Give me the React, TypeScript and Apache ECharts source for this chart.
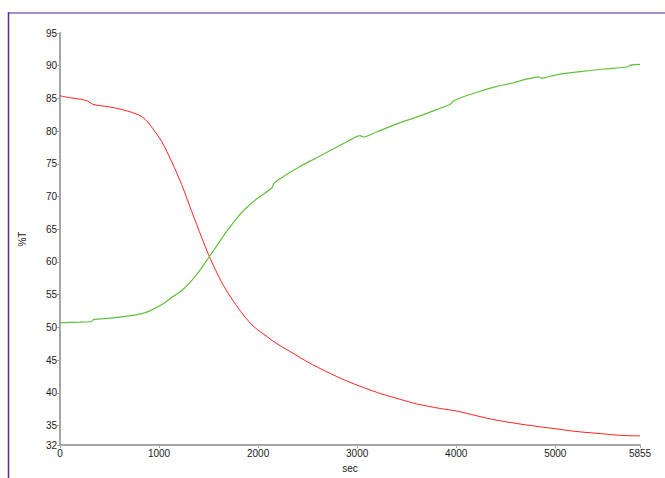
import React, { useEffect, useRef } from "react";
import * as echarts from "echarts";

const redSec = [0, 100, 200, 280, 330, 400, 500, 650, 790, 860, 926, 1027, 1128, 1229, 1330, 1431, 1500, 1566, 1650, 1750, 1852, 1950, 2088, 2200, 2357, 2500, 2694, 2880, 3064, 3250, 3434, 3600, 3838, 4007, 4200, 4411, 4700, 5000, 5200, 5421, 5650, 5855];
const redVal = [85.4, 85.1, 84.9, 84.6, 84.1, 83.9, 83.7, 83.2, 82.5, 81.8, 80.6, 78.4, 75.3, 71.8, 67.7, 63.7, 61.1, 58.9, 56.4, 54.0, 51.9, 50.2, 48.6, 47.4, 46.0, 44.7, 43.2, 41.9, 40.8, 39.8, 39.0, 38.3, 37.6, 37.2, 36.5, 35.8, 35.1, 34.5, 34.1, 33.8, 33.5, 33.4];

const greenSec = [0, 200, 320, 340, 500, 623, 825, 920, 993, 1060, 1128, 1200, 1263, 1320, 1364, 1430, 1498, 1570, 1633, 1684, 1780, 1869, 2000, 2138, 2160, 2200, 2300, 2424, 2600, 2761, 2900, 3030, 3064, 3200, 3434, 3650, 3838, 3940, 3973, 4100, 4242, 4400, 4579, 4700, 4831, 4860, 4899, 5050, 5252, 5500, 5724, 5760, 5855];
const greenVal = [50.7, 50.8, 50.9, 51.2, 51.4, 51.6, 52.1, 52.6, 53.2, 53.8, 54.6, 55.3, 56.1, 57.0, 57.8, 59.1, 60.6, 62.2, 63.6, 64.7, 66.6, 68.1, 69.8, 71.3, 72.0, 72.5, 73.5, 74.6, 76.0, 77.3, 78.4, 79.3, 79.1, 79.9, 81.3, 82.4, 83.5, 84.1, 84.6, 85.4, 86.1, 86.8, 87.4, 87.9, 88.3, 88.1, 88.2, 88.7, 89.1, 89.5, 89.8, 90.1, 90.2];

const xTicks = [0, 1000, 2000, 3000, 4000, 5000, 5855];
const yTicks = [32, 35, 40, 45, 50, 55, 60, 65, 70, 75, 80, 85, 90, 95];

const xName = "sec";
const yName = "%T";

export default function App() {
  const ref = useRef<HTMLDivElement>(null);
  useEffect(() => {
    if (!ref.current) return;
    const chart = echarts.init(ref.current, undefined, { renderer: "svg" });
    const font = "Arial, 'Liberation Sans', sans-serif";
    const axisLine = { show: true, lineStyle: { color: "#a6a6a6", width: 2 } };
    const axisTick = { show: true, length: 3, lineStyle: { color: "#a6a6a6", width: 1 } };
    const plain = (v: number) => String(v);
    chart.setOption({
      animation: false,
      backgroundColor: "#ffffff",
      grid: { left: 60, top: 33, right: 25, bottom: 30, containLabel: false },
      graphic: [
        { type: "line", shape: { x1: 8, y1: 13, x2: 665, y2: 13 }, style: { stroke: "#a38fc9", lineWidth: 2 } },
        { type: "line", shape: { x1: 8.5, y1: 12, x2: 8.5, y2: 478 }, style: { stroke: "#5b2ca0", lineWidth: 1.5 } },
      ],
      xAxis: {
        type: "value",
        min: 0,
        max: 5855,
        name: xName,
        nameLocation: "middle",
        nameGap: 17,
        nameTextStyle: { color: "#222", fontSize: 10, fontFamily: font },
        axisLine,
        axisTick: { ...axisTick, customValues: xTicks },
        axisLabel: { customValues: xTicks, formatter: plain, color: "#222", fontSize: 10, fontFamily: font, margin: 3 },
        splitLine: { show: false },
      },
      yAxis: {
        type: "value",
        min: 32,
        max: 95,
        name: yName,
        nameLocation: "middle",
        nameGap: 33,
        nameRotate: 90,
        nameTextStyle: { color: "#222", fontSize: 10, fontFamily: font },
        axisLine,
        axisTick: { ...axisTick, customValues: yTicks },
        axisLabel: { customValues: yTicks, formatter: plain, color: "#222", fontSize: 10, fontFamily: font, margin: 3 },
        splitLine: { show: false },
      },
      series: [
        {
          type: "line",
          data: redSec.map((s, i) => [s, redVal[i]]),
          showSymbol: false,
          smooth: 0.3,
          lineStyle: { color: "#ff2020", width: 1 },
          itemStyle: { color: "#ff2020" },
        },
        {
          type: "line",
          data: greenSec.map((s, i) => [s, greenVal[i]]),
          showSymbol: false,
          smooth: 0.25,
          lineStyle: { color: "#62c03c", width: 1.2 },
          itemStyle: { color: "#62c03c" },
        },
      ],
    });
    return () => chart.dispose();
  }, []);
  return (
    <div
      ref={ref}
      style={{ position: "fixed", left: 0, top: 0, width: 665, height: 478, background: "#fff" }}
    />
  );
}
